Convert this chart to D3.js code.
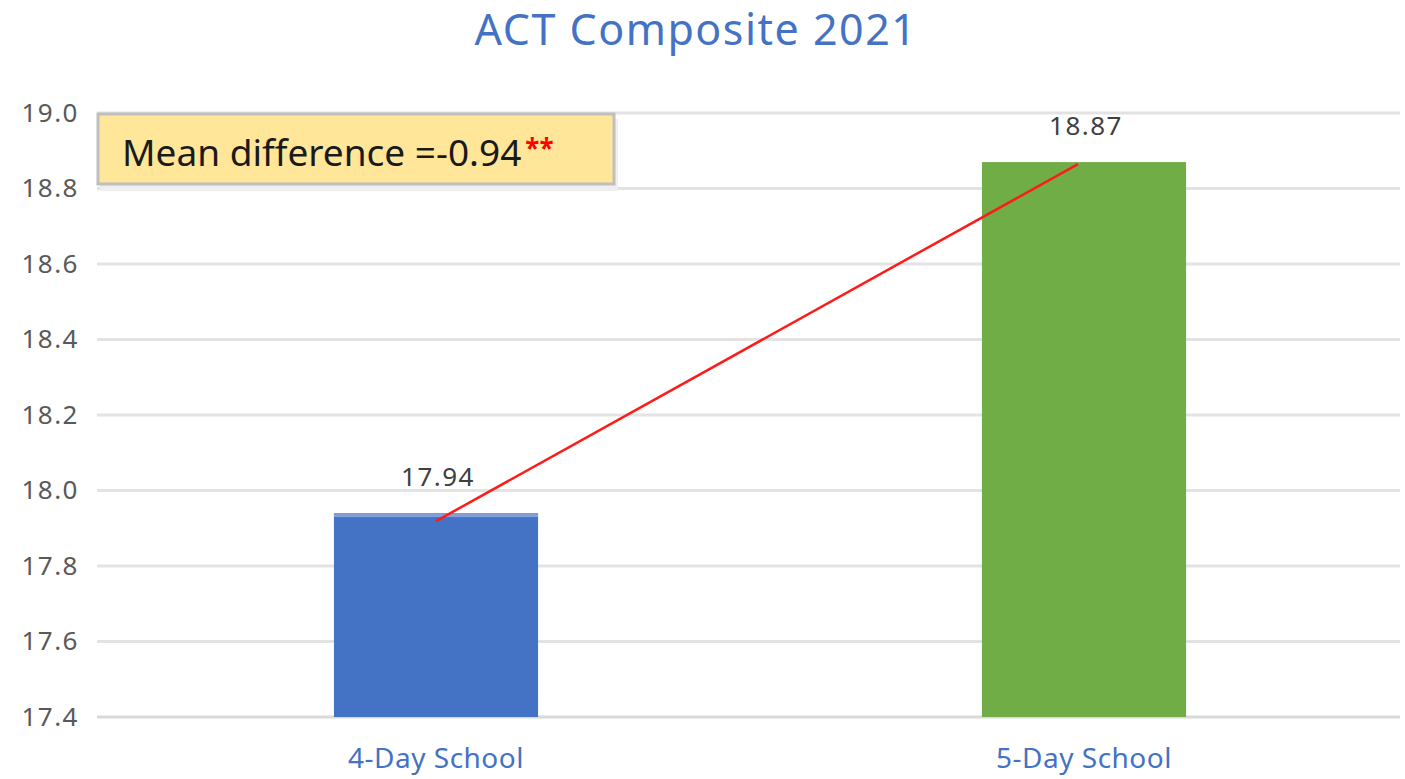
<!DOCTYPE html>
<html>
<head>
<meta charset="utf-8">
<script src="https://cdn.jsdelivr.net/npm/d3@7"></script>
<style>
  body { margin: 0; background: #fff; }
  svg { display: block; font-family: "Noto Sans", "Open Sans", sans-serif; }
</style>
</head>
<body>
<div id="chart"></div>
<script>
// chart data
var categories = ["4-Day School", "5-Day School"];
var scores = [17.94, 18.87];
var barColors = ["#4472c4", "#70ad47"];
var yTicks = [17.4, 17.6, 17.8, 18.0, 18.2, 18.4, 18.6, 18.8, 19.0];
var titleText = "ACT Composite 2021";
var noteText = "Mean difference =-0.94";
var noteStars = "**";

var W = 1405, H = 779;

var svg = d3.select("#chart").append("svg")
  .attr("width", W)
  .attr("height", H);

var x = d3.scaleBand()
  .domain(categories)
  .range([112, 1408])
  .paddingInner(0.685)
  .paddingOuter(0.3425);

var y = d3.scaleLinear()
  .domain([17.4, 19.0])
  .range([717, 113]);

// title
svg.append("text")
  .attr("x", 696)
  .attr("y", 45)
  .attr("text-anchor", "middle")
  .style("font-size", "43px")
  .style("letter-spacing", "1.5px")
  .style("fill", "#4472c4")
  .text(titleText);

// gridlines
svg.append("g")
  .selectAll("line")
  .data(yTicks)
  .join("line")
  .attr("x1", 97)
  .attr("x2", 1400)
  .attr("y1", function(d) { return y(d); })
  .attr("y2", function(d) { return y(d); })
  .style("stroke", function(d) { return d === 17.4 ? "#d9d9d9" : "#e3e3e3"; })
  .style("stroke-width", 3);

// y axis labels
var yAxis = d3.axisLeft(y)
  .tickValues(yTicks)
  .tickFormat(d3.format(".1f"))
  .tickSize(0)
  .tickPadding(0);

var yg = svg.append("g")
  .attr("transform", "translate(79,0)")
  .call(yAxis);
yg.select(".domain").remove();
yg.selectAll("text")
  .style("font-size", "26px")
  .style("letter-spacing", "1.5px")
  .style("fill", "#595959")
  .style("font-family", "'Noto Sans', sans-serif");

// bars
svg.append("g")
  .selectAll("rect")
  .data(categories)
  .join("rect")
  .attr("x", function(d) { return x(d); })
  .attr("width", x.bandwidth())
  .attr("y", function(d, i) { return y(scores[i]); })
  .attr("height", function(d, i) { return y(17.4) - y(scores[i]); })
  .style("fill", function(d, i) { return barColors[i]; });

// light strip on top of the blue bar
svg.append("rect")
  .attr("x", x(categories[0]))
  .attr("width", x.bandwidth())
  .attr("y", y(scores[0]))
  .attr("height", 4)
  .style("fill", "#7f9fd6");

// value labels
svg.append("g")
  .selectAll("text")
  .data(categories)
  .join("text")
  .attr("x", function(d) { return x(d) + x.bandwidth() / 2 + 2; })
  .attr("y", function(d, i) { return y(scores[i]) - 27; })
  .attr("text-anchor", "middle")
  .style("font-size", "26px")
  .style("letter-spacing", "1.5px")
  .style("fill", "#404040")
  .text(function(d, i) { return scores[i].toFixed(2); });

// x axis labels
svg.append("g")
  .selectAll("text")
  .data(categories)
  .join("text")
  .attr("x", function(d) { return x(d) + x.bandwidth() / 2; })
  .attr("y", 768)
  .attr("text-anchor", "middle")
  .style("font-size", "28px")
  .style("letter-spacing", "0.5px")
  .style("fill", "#4472c4")
  .text(function(d) { return d; });

// red connecting line between the two bar tops
svg.append("line")
  .attr("x1", x(categories[0]) + x.bandwidth() / 2)
  .attr("y1", y(scores[0]) + 8)
  .attr("x2", x(categories[1]) + x.bandwidth() / 2 - 6)
  .attr("y2", y(scores[1]) + 2)
  .style("stroke", "#ff1a1a")
  .style("stroke-width", 2.5);

// annotation box
var note = svg.append("g");
note.append("rect")
  .attr("x", 100)
  .attr("y", 119)
  .attr("width", 518)
  .attr("height", 72)
  .style("fill", "#efefef");
note.append("rect")
  .attr("x", 98)
  .attr("y", 114)
  .attr("width", 516)
  .attr("height", 70)
  .style("fill", "#ffe699")
  .style("stroke", "#bfbfbf")
  .style("stroke-width", 3);
var nt = note.append("text")
  .attr("x", 122)
  .attr("y", 166)
  .style("font-size", "37px")
  .style("fill", "#1a1a1a")
  .text(noteText);
nt.append("tspan")
  .attr("dx", 4)
  .attr("dy", -8)
  .style("font-size", "26px")
  .style("fill", "#ff0000")
  .style("font-weight", "bold")
  .text(noteStars);
</script>
</body>
</html>
